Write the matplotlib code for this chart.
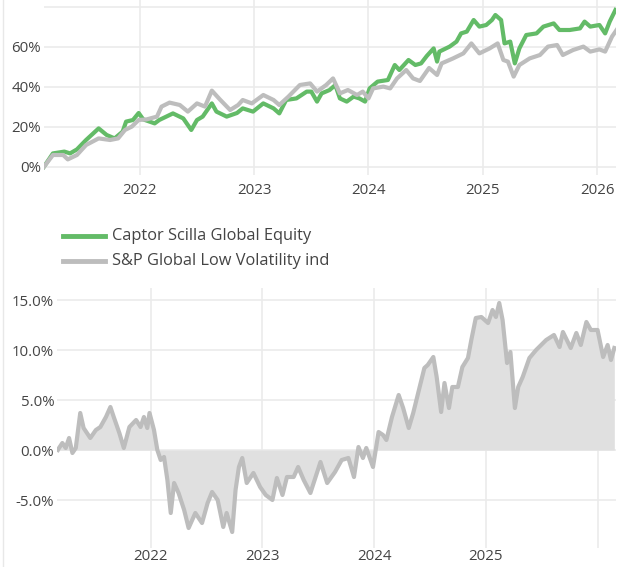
import matplotlib
matplotlib.use("Agg")
import matplotlib.pyplot as plt
from matplotlib.lines import Line2D
from matplotlib.patches import Rectangle

plt.rcParams["font.family"] = ["Open Sans", "DejaVu Sans"]

# cumulative performance, % (x = decimal year)
fund_t = [2021.16, 2021.24, 2021.34, 2021.39, 2021.45, 2021.53, 2021.64, 2021.71, 2021.78, 2021.85,
          2021.88, 2021.94, 2021.99, 2022.03, 2022.13, 2022.17, 2022.29, 2022.38, 2022.45, 2022.50,
          2022.55, 2022.63, 2022.67, 2022.76, 2022.85, 2022.90, 2022.99, 2023.08, 2023.17, 2023.22,
          2023.28, 2023.37, 2023.46, 2023.50, 2023.55, 2023.59, 2023.66, 2023.71, 2023.75, 2023.81,
          2023.87, 2023.92, 2023.97, 2024.01, 2024.08, 2024.17, 2024.23, 2024.27, 2024.35, 2024.41,
          2024.46, 2024.51, 2024.57, 2024.60, 2024.62, 2024.71, 2024.77, 2024.81, 2024.86, 2024.92,
          2024.97, 2025.03, 2025.08, 2025.11, 2025.16, 2025.19, 2025.24, 2025.28, 2025.32, 2025.38,
          2025.47, 2025.53, 2025.62, 2025.67, 2025.76, 2025.85, 2025.89, 2025.94, 2026.02, 2026.07,
          2026.11, 2026.16]
fund = [0.0, 6.8, 7.7, 6.8, 8.8, 13.5, 19.3, 16.0, 14.3, 17.7,
        22.7, 23.5, 27.0, 23.8, 21.8, 23.5, 26.8, 24.3, 18.5, 23.5,
        25.2, 31.8, 27.7, 25.2, 27.0, 29.3, 27.7, 31.8, 29.3, 26.8,
        33.5, 34.3, 37.7, 37.7, 32.7, 36.8, 38.5, 41.0, 34.3, 32.7,
        35.2, 34.3, 32.7, 39.3, 42.7, 43.5, 51.0, 48.5, 53.5, 51.0,
        51.8, 55.5, 59.3, 52.7, 57.7, 60.2, 62.7, 66.8, 67.7, 73.5,
        70.2, 71.0, 73.5, 76.0, 73.5, 61.8, 62.7, 51.8, 59.3, 66.0,
        66.8, 70.2, 71.8, 68.5, 68.5, 69.3, 72.7, 70.2, 71.0, 66.8,
        72.7, 78.5]

index_t = [2021.16, 2021.24, 2021.33, 2021.37, 2021.45, 2021.53, 2021.64, 2021.74, 2021.81, 2021.87,
           2021.93, 2021.99, 2022.06, 2022.15, 2022.19, 2022.26, 2022.35, 2022.42, 2022.50, 2022.57,
           2022.63, 2022.70, 2022.79, 2022.86, 2022.90, 2022.98, 2023.08, 2023.17, 2023.22, 2023.30,
           2023.40, 2023.49, 2023.55, 2023.63, 2023.69, 2023.75, 2023.82, 2023.90, 2023.95, 2024.00,
           2024.04, 2024.13, 2024.19, 2024.25, 2024.33, 2024.39, 2024.45, 2024.53, 2024.60, 2024.64,
           2024.74, 2024.83, 2024.90, 2024.97, 2025.06, 2025.13, 2025.18, 2025.22, 2025.27, 2025.32,
           2025.41, 2025.50, 2025.57, 2025.65, 2025.70, 2025.79, 2025.88, 2025.94, 2026.02, 2026.07,
           2026.13, 2026.17]
index = [0.0, 6.0, 6.0, 3.8, 6.0, 11.0, 14.3, 13.5, 14.3, 18.5,
         20.2, 23.5, 23.8, 25.2, 30.2, 32.2, 31.0, 27.7, 31.8, 30.2,
         38.2, 33.8, 28.5, 31.0, 33.5, 31.8, 36.0, 33.5, 31.0, 35.2,
         41.0, 41.8, 37.7, 41.0, 44.3, 36.8, 38.5, 36.0, 37.7, 34.3,
         39.3, 40.2, 39.3, 44.3, 48.5, 44.3, 43.0, 49.5, 46.0, 51.8,
         54.3, 56.8, 61.8, 56.8, 59.3, 61.8, 53.5, 52.7, 45.2, 51.0,
         54.3, 56.0, 60.2, 61.0, 56.0, 58.5, 60.2, 57.7, 58.8, 57.7,
         65.2, 68.5]

# relative performance, %
rel_t = [2021.17, 2021.18, 2021.21, 2021.24, 2021.27, 2021.30, 2021.33, 2021.37, 2021.40, 2021.46,
         2021.51, 2021.55, 2021.60, 2021.64, 2021.67, 2021.72, 2021.76, 2021.81, 2021.87, 2021.91,
         2021.94, 2021.97, 2021.99, 2022.03, 2022.06, 2022.09, 2022.12, 2022.15, 2022.18, 2022.21,
         2022.25, 2022.30, 2022.34, 2022.40, 2022.46, 2022.51, 2022.55, 2022.60, 2022.65, 2022.68,
         2022.73, 2022.76, 2022.79, 2022.82, 2022.86, 2022.92, 2022.98, 2023.03, 2023.09, 2023.13,
         2023.18, 2023.22, 2023.28, 2023.32, 2023.37, 2023.43, 2023.52, 2023.58, 2023.65, 2023.71,
         2023.77, 2023.82, 2023.86, 2023.90, 2023.93, 2023.99, 2024.04, 2024.08, 2024.11, 2024.16,
         2024.22, 2024.26, 2024.31, 2024.35, 2024.39, 2024.45, 2024.48, 2024.53, 2024.56, 2024.60,
         2024.63, 2024.67, 2024.70, 2024.75, 2024.79, 2024.84, 2024.87, 2024.91, 2024.96, 2025.02,
         2025.06, 2025.09, 2025.12, 2025.15, 2025.19, 2025.22, 2025.26, 2025.29, 2025.33, 2025.39,
         2025.45, 2025.54, 2025.61, 2025.66, 2025.69, 2025.76, 2025.81, 2025.85, 2025.90, 2025.94,
         2026.00, 2026.05, 2026.09, 2026.12, 2026.15]
rel = [0.0, 0.2, 0.7, 0.2, 1.2, -0.3, 0.2, 3.7, 2.2, 1.2,
       2.0, 2.3, 3.3, 4.3, 3.3, 1.7, 0.2, 2.3, 3.0, 2.3,
       3.3, 2.2, 3.7, 2.0, 0.0, -1.0, -0.7, -3.0, -6.3, -3.3,
       -4.3, -6.0, -7.8, -6.3, -7.3, -5.3, -4.2, -5.0, -7.7, -6.3,
       -8.2, -4.0, -1.7, -0.8, -3.3, -2.3, -3.7, -4.5, -5.0, -2.8,
       -4.5, -2.7, -2.7, -1.7, -3.0, -4.3, -1.2, -3.3, -2.2, -1.0,
       -0.8, -2.7, 0.3, -0.8, 0.2, -1.7, 1.8, 1.5, 1.0, 3.3,
       5.5, 4.2, 2.2, 3.7, 5.5, 8.2, 8.5, 9.3, 7.3, 3.8,
       6.7, 4.2, 6.3, 6.3, 8.3, 9.2, 11.0, 13.2, 13.3, 12.7,
       14.0, 13.3, 14.7, 13.0, 8.7, 9.8, 4.2, 6.3, 7.3, 9.2,
       10.0, 11.0, 11.5, 10.3, 11.8, 10.2, 11.7, 10.5, 12.8, 12.0,
       12.0, 9.3, 10.5, 9.0, 10.2]

years = [2022, 2023, 2024, 2025, 2026]
fund_name = "Captor Scilla Global Equity"
index_name = "S&P Global Low Volatility index"

green = "#63bb67"
grey = "#bdbdbd"
grid_c = "#ebebeb"
text_c = "#444444"

fig = plt.figure(figsize=(6.25, 5.67), dpi=100)


def style(ax):
    for s in ax.spines.values():
        s.set_visible(False)
    ax.grid(True, color=grid_c, linewidth=1.2)
    ax.set_axisbelow(True)
    ax.tick_params(length=0, colors=text_c, labelsize=10.8)
    ax.set_xticks(years)
    ax.set_xticklabels([str(y) for y in years])
    ax.set_xlim(2021.162, 2026.165)


# top: cumulative performance
ax1 = fig.add_axes([44 / 625, 1 - 175 / 567, 572 / 625, 175 / 567])
style(ax1)
ax1.plot(fund_t, fund, color=green, linewidth=3.0, solid_joinstyle="round")
ax1.plot(index_t, index, color=grey, linewidth=3.0, solid_joinstyle="round")
ax1.set_ylim(-4, 83.5)
ax1.set_yticks([0, 20, 40, 60, 80])
ax1.set_yticklabels(["0%", "20%", "40%", "60%", ""])
ax1.tick_params(axis="x", pad=6)
ax1.tick_params(axis="y", pad=2)

# legend, drawn by hand; the second name is cut off at the card edge like in the original
fig.add_artist(Line2D([63 / 625, 105 / 625], [1 - 236 / 567] * 2, color=green, linewidth=3.5))
fig.add_artist(Line2D([63 / 625, 105 / 625], [1 - 261 / 567] * 2, color=grey, linewidth=3.5))
fig.text(112 / 625, 1 - 236 / 567, fund_name, color=text_c, fontsize=11.8, va="center")
fig.text(112 / 625, 1 - 261 / 567, index_name, color=text_c, fontsize=11.8, va="center")
fig.add_artist(Rectangle((330 / 625, 1 - 272 / 567), 120 / 625, 22 / 567,
                         facecolor="white", edgecolor="none", zorder=10))

# bottom: relative performance
ax2 = fig.add_axes([57 / 625, 1 - 548 / 567, 559 / 625, 260 / 567])
style(ax2)
ax2.fill_between(rel_t, rel, 0, color="#e0e0e0", linewidth=0)
ax2.plot(rel_t, rel, color=grey, linewidth=3.0, solid_joinstyle="round")
ax2.set_ylim(-9.8, 16.2)
ax2.set_yticks([-5, 0, 5, 10, 15])
ax2.set_yticklabels(["-5.0%", "0.0%", "5.0%", "10.0%", "15.0%"])
ax2.set_xticklabels(["2022", "2023", "2024", "2025", ""])
ax2.tick_params(axis="x", pad=1)
ax2.tick_params(axis="y", pad=2)

# card border on the left
fig.add_artist(Line2D([3 / 625, 3 / 625], [0, 1], color="#e8e8e8", linewidth=1))

fig.savefig("out.png", dpi=100)
